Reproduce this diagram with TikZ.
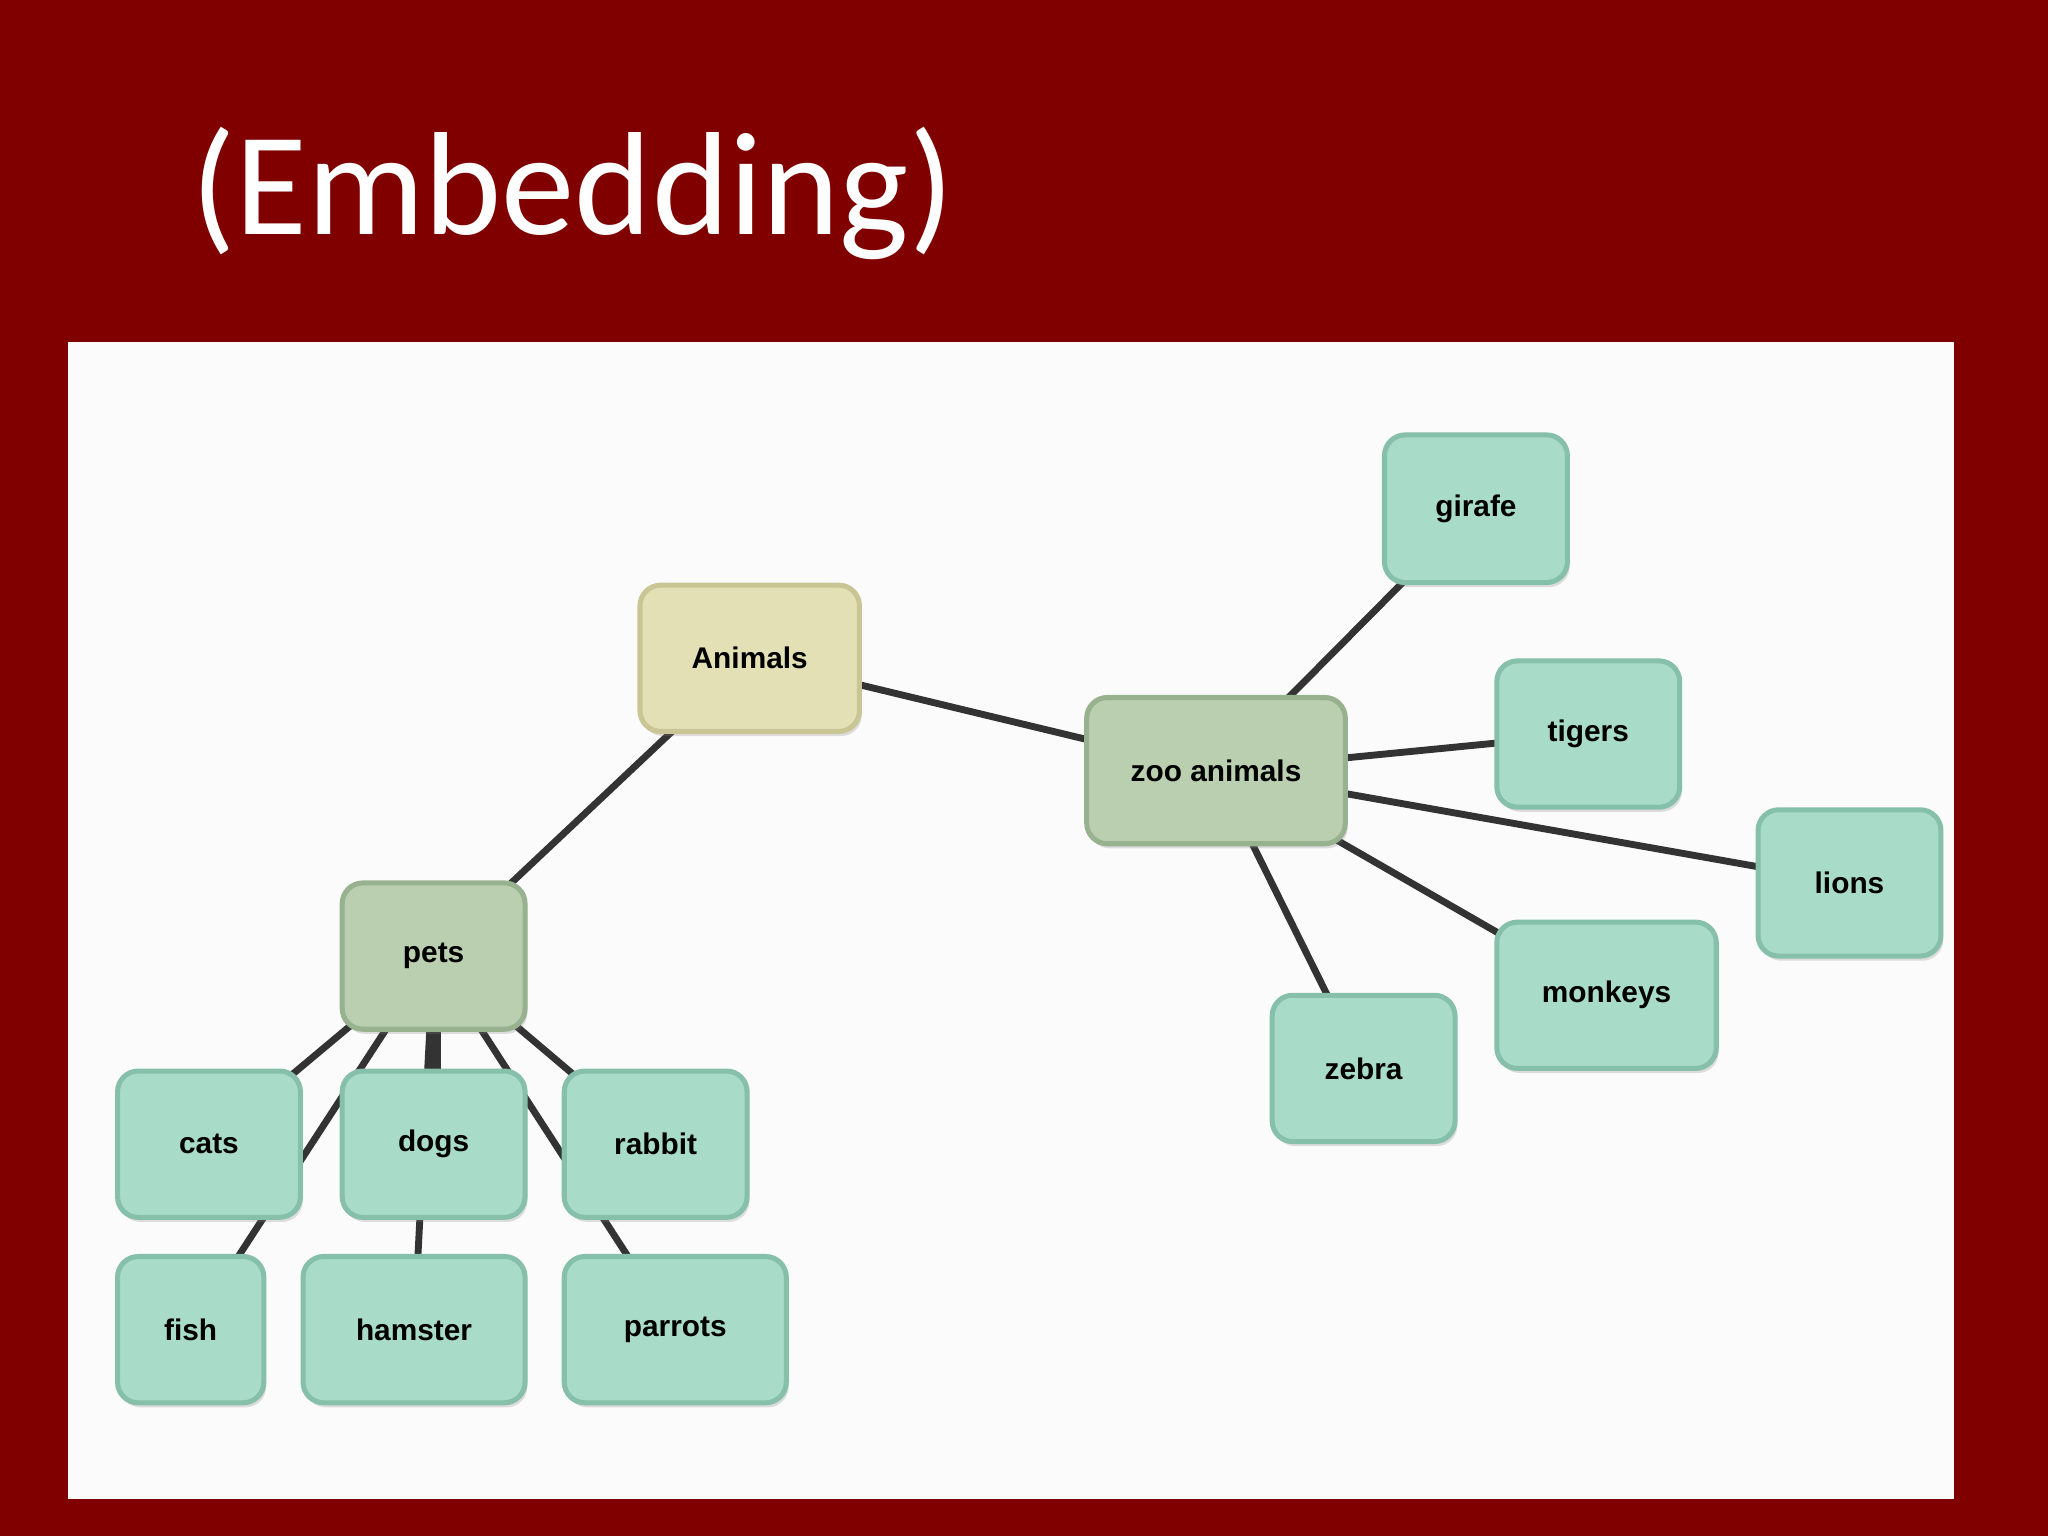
\documentclass[tikz,border=0pt]{standalone}
\usepackage{fontspec}
\setmainfont{Carlito}
\newfontfamily\boxfont{Liberation Sans}
\usetikzlibrary{shadows}
\pgfdeclarelayer{bg}\pgfdeclarelayer{edges}
\pgfsetlayers{bg,edges,main}
\definecolor{slide}{HTML}{800000}
\definecolor{leaf}{HTML}{A9DCC8}
\definecolor{leafb}{HTML}{86C0AA}
\definecolor{mid}{HTML}{B9CFB0}
\definecolor{midb}{HTML}{98B290}
\definecolor{root}{HTML}{E3E0B6}
\definecolor{rootb}{HTML}{C9C595}
\tikzset{
 bx/.style={rounded corners=9pt,line width=2.2pt,font=\boxfont\bfseries\fontsize{13}{15}\selectfont,
   drop shadow={shadow xshift=1pt,shadow yshift=-2pt,opacity=0.25}},
 leafbox/.style={bx,fill=leaf,draw=leafb},
 midbox/.style={bx,fill=mid,draw=midb},
 rootbox/.style={bx,fill=root,draw=rootb},
 link/.style={line width=3pt,draw=black!80}
}
\newcommand{\bxnode}[6]{\node[#1,minimum width={(#4-#3)*0.02cm},minimum height={(#6-#5)*0.02cm}] (#2) at ({(#3+#4)/2*0.02cm},{-(#5+#6)/2*0.02cm})}
\begin{document}
\begin{tikzpicture}[x=0.02cm,y=-0.02cm]
\begin{pgfonlayer}{bg}
\fill[slide] (0,0) rectangle (1568,1176);
\fill[white!97!gray] (52,262) rectangle (1496,1148);
\end{pgfonlayer}
\useasboundingbox (0,0) rectangle (1568,1176);
\node[anchor=west,text=white,font=\fontsize{64}{70}\selectfont,inner sep=0] (title) at (146,148) {(Embedding)};
\bxnode{rootbox}{animals}{490}{658}{448}{560} {Animals};
\bxnode{midbox}{zoo}{832}{1030}{534}{646} {zoo animals};
\bxnode{midbox}{pets}{262}{402}{676}{788} {pets};
\bxnode{leafbox}{girafe}{1060}{1200}{333}{446} {girafe};
\bxnode{leafbox}{tigers}{1146}{1286}{506}{618} {tigers};
\bxnode{leafbox}{lions}{1346}{1486}{620}{732} {lions};
\bxnode{leafbox}{monkeys}{1146}{1314}{706}{818} {monkeys};
\bxnode{leafbox}{zebra}{974}{1114}{762}{874} {zebra};
\bxnode{leafbox}{cats}{90}{230}{820}{932} {cats};
\bxnode{leafbox}{dogs}{262}{402}{820}{932} {dogs};
\bxnode{leafbox}{rabbit}{432}{572}{820}{932} {rabbit};
\bxnode{leafbox}{fish}{90}{202}{962}{1074} {fish};
\bxnode{leafbox}{hamster}{232}{402}{962}{1074} {hamster};
\bxnode{leafbox}{parrots}{432}{602}{962}{1074} {parrots};
\begin{pgfonlayer}{edges}
\draw[link] (animals.center) -- (zoo.center);
\draw[link] (animals.center) -- (pets.center);
\draw[link] (zoo.center) -- (girafe.center);
\draw[link] (zoo.center) -- (tigers.center);
\draw[link] (zoo.center) -- (lions.center);
\draw[link] (zoo.center) -- (monkeys.center);
\draw[link] (zoo.center) -- (zebra.center);
\draw[link] (pets.center) -- (cats.center);
\draw[link,transform canvas={xshift=-1.5pt}] (pets.center) -- (dogs.center);
\draw[link,transform canvas={xshift=1.5pt}] (pets.center) -- (dogs.center);
\draw[link] (pets.center) -- (rabbit.center);
\draw[link] (pets.center) -- (fish.center);
\draw[link] (pets.center) -- (hamster.center);
\draw[link] (pets.center) -- (parrots.center);
\end{pgfonlayer}
\end{tikzpicture}
\end{document}
